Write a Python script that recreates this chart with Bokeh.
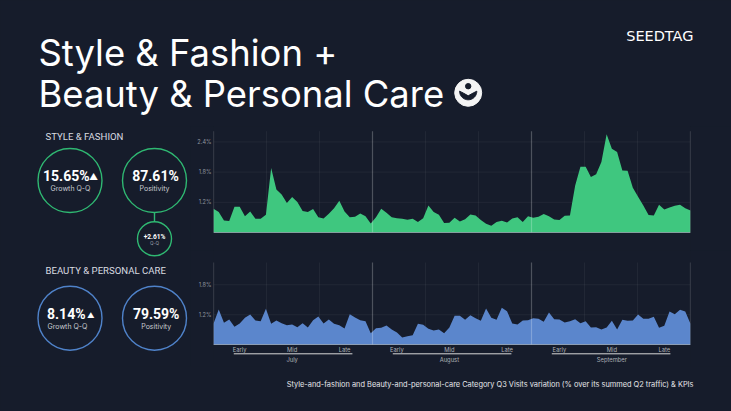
import numpy as np
from bokeh.plotting import figure
from bokeh.layouts import column, row
from bokeh.models import Range1d, FixedTicker, LinearAxis, PrintfTickFormatter
from bokeh.core.properties import value
from bokeh.embed import file_html
from bokeh.resources import INLINE

BG = "#161c2b"
GREEN = "#3fc77f"
BLUE = "#5b86cc"
RING_GREEN = "#2fb872"
RING_BLUE = "#4f82c9"
FONT = "Inter"
KPI = "Roboto"

style_fashion = [1.071,1.005,.839,.826,1.111,1.111,.925,1.018,.872,.872,.952,1.881,1.456,1.357,1.184,1.304,1.204,1.025,1.005,1.065,
 .905,.879,.972,1.084,1.231,1.018,.905,.912,.978,.925,.779,.905,1.071,.992,.905,.885,.872,.852,.872,.806,
 .885,1.138,1.005,.952,.786,.792,.892,.819,.865,.958,.938,.846,.773,.733,.806,.832,.799,.879,.905,.806,
 .925,.892,.912,.965,.925,.859,.846,.932,.938,1.536,1.907,1.907,1.702,1.755,2.0,2.551,2.266,2.2,1.834,1.828,
 1.489,1.31,1.138,.945,.938,1.151,1.058,1.098,1.131,1.151,1.084,1.038]
beauty_care = [1.02,1.307,1.04,1.107,.96,1.027,1.14,1.207,1.087,1.073,1.32,1.02,1.087,1.033,.993,1.007,.953,1.033,.947,1.093,
 1.167,1.027,1.107,1.02,.993,.927,1.213,1.147,1.093,1.073,.833,.933,.94,.987,.907,.847,.747,.773,.793,1.02,
 1.0,.92,.887,.907,.833,.947,1.18,1.18,1.1,1.193,1.133,1.08,1.327,1.14,1.1,1.34,1.273,1.027,1.007,1.087,
 1.093,1.133,1.12,1.06,1.247,1.113,1.107,1.047,1.073,1.113,1.033,1.073,.947,.953,.907,.947,1.08,.907,1.1,1.08,
 1.087,1.207,1.12,1.12,1.16,.94,.98,1.267,1.213,1.3,1.267,1.02]
days = list(range(len(style_fashion)))
part_ticks = [5, 15, 25, 35, 45, 56, 66, 76, 86]
part_labels = ["Early", "Mid", "Late"] * 3
month_ticks = [15, 45, 76]
month_labels = ["July", "August", "September"]
y_ticks_top = [1.2, 1.8, 2.4]
y_ticks_bottom = [1.2, 1.8]
TITLE = ["Style & Fashion +", "Beauty & Personal Care"]
FOOT = "Style-and-fashion and Beauty-and-personal-care Category Q3 Visits variation (% over its summed Q2 traffic) & KPIs"


def blank(w, h, x0, x1, y0, y1):
    p = figure(width=w, height=h, x_range=Range1d(x0, x1), y_range=Range1d(y0, y1),
               output_backend="svg", toolbar_location=None, min_border=0)
    p.axis.visible = False
    p.grid.visible = False
    p.outline_line_color = None
    p.background_fill_color = BG
    p.border_fill_color = BG
    return p


def txt(p, x, y, s, size, color="#ffffff", align="left", style="normal", font=FONT):
    p.text([x], [y], text=[s], text_font=value(font), text_font_size=f"{size}px", text_color=color,
           text_align=align, text_baseline="middle", text_font_style=style)


# ---- header
head = blank(731, 126, 0, 731, 126, 0)
for s, y in zip(TITLE, [52, 93]):
    txt(head, 38, y, s, 36.4)
txt(head, 693, 35, "SEEDTAG", 14.5, align="right", font="DejaVu Sans")
cx, cy = 467.7, 92.3
head.circle([cx], [cy], radius=13.5, color="#f4f4f4")
t = np.linspace(0, np.pi, 24)
lx = list(cx + 8.6 * np.cos(t)) + [cx - 5, cx, cx + 5]
ly = list(cy - 1.6 + 8.6 * np.sin(t)) + [cy + 0.2, cy + 3, cy + 0.2]
head.patch(lx, ly, color=BG)
head.circle([cx], [cy - 6.6], radius=2.7, color=BG)

# ---- left KPI panel
left = blank(190, 240, 0, 190, 366, 126)
txt(left, 45, 135.7, "STYLE & FASHION", 9.6, "#d9dbe0", font=KPI)
txt(left, 45, 270.3, "BEAUTY & PERSONAL CARE", 9.6, "#d9dbe0", font=KPI)
for x, y, r, c in [(69.5, 180, 32, RING_GREEN), (154, 180, 32, RING_GREEN), (154, 238.3, 17, RING_GREEN),
                   (69.5, 317.7, 32, RING_BLUE), (154, 317.7, 32, RING_BLUE)]:
    left.circle([x], [y], radius=r, fill_color=None, line_color=c, line_width=1.4)
left.segment([154], [212], [154], [221.3], line_color=RING_GREEN, line_width=1.4)
txt(left, 42.5, 175.7, "15.65%", 14, style="bold", font=KPI)
txt(left, 88.5, 176.2, "▲", 9)
txt(left, 70, 187.6, "Growth Q-Q", 7, "#c9ccd2", "center")
txt(left, 155, 175.7, "87.61%", 14, align="center", style="bold", font=KPI)
txt(left, 154, 187.6, "Positivity", 7, "#c9ccd2", "center")
txt(left, 154, 236.7, "+2.61%", 6.6, align="center", style="bold", font=KPI)
txt(left, 154, 243.2, "Q-Q", 4.6, "#9a9ea8", "center")
txt(left, 46.5, 313.3, "8.14%", 14, style="bold", font=KPI)
txt(left, 86.5, 314.5, "▲", 7.5)
txt(left, 67, 326, "Growth Q-Q", 7, "#c9ccd2", "center")
txt(left, 155.7, 313.3, "79.59%", 14, align="center", style="bold", font=KPI)
txt(left, 155.7, 326, "Positivity", 7, "#c9ccd2", "center")


# ---- charts
def chart(vals, color, h, ymin, ymax, top, yticks):
    p = figure(width=541, height=h, x_range=Range1d(0, 91), y_range=Range1d(ymin, ymax),
               output_backend="svg", toolbar_location=None, x_axis_location=None, y_axis_location=None,
               min_border_left=23, min_border_right=41, min_border_top=0, min_border_bottom=0)
    p.outline_line_color = None
    p.background_fill_color = BG
    p.border_fill_color = BG
    p.grid.visible = False
    month = 91 / 3
    faint = [month / 3 * i for i in range(1, 9) if i % 3]
    p.segment(faint, [0.6] * len(faint), faint, [top] * len(faint), line_color="#ffffff", line_alpha=0.05, line_width=1)
    for yv in yticks:
        p.segment([0], [yv], [91], [yv], line_color="#ffffff", line_alpha=0.05, line_width=1)
    p.varea(days, y1=[0.6] * len(days), y2=vals, fill_color=color)
    seps = [0, month, 2 * month, 91]
    p.segment(seps, [0.6] * 4, seps, [top] * 4, line_color="#ffffff", line_alpha=0.24, line_width=1.2)
    ya = LinearAxis(ticker=FixedTicker(ticks=yticks), formatter=PrintfTickFormatter(format="%.1f%%"),
                    axis_line_color=None, major_tick_line_color=None, minor_tick_line_color=None,
                    major_tick_in=0, major_tick_out=0,
                    major_label_text_color="#8f949e", major_label_text_font=FONT,
                    major_label_text_font_size="5.6px", major_label_standoff=2)
    p.add_layout(ya, "left")
    return p


top_chart = chart(style_fashion, GREEN, 124, 0.242, 2.706, 2.612, y_ticks_top)
base = LinearAxis(ticker=FixedTicker(ticks=[]), fixed_location=0.6, axis_line_color="#aab4bd",
                  axis_line_alpha=0.7, major_tick_in=0, major_tick_out=0, major_label_text_font_size="0px")
top_chart.add_layout(base, "below")

bot_chart = chart(beauty_care, BLUE, 116, 0.166, 2.486, 2.246, y_ticks_bottom)
parts = LinearAxis(ticker=FixedTicker(ticks=part_ticks), fixed_location=0.6,
                   major_label_overrides=dict(zip(part_ticks, part_labels)),
                   axis_line_color="#aab4bd", axis_line_alpha=0.7, major_tick_line_color=None,
                   minor_tick_line_color=None, major_tick_in=0, major_tick_out=0,
                   major_label_text_color="#aeb1b8", major_label_text_font=FONT,
                   major_label_text_font_size="5.8px", major_label_standoff=1)
bot_chart.add_layout(parts, "below")
months = LinearAxis(ticker=FixedTicker(ticks=month_ticks), fixed_location=0.40,
                    major_label_overrides=dict(zip(month_ticks, month_labels)),
                    axis_line_color=None, major_tick_line_color=None, minor_tick_line_color=None,
                    major_tick_in=0, major_tick_out=0,
                    major_label_text_color="#aeb1b8", major_label_text_font=FONT,
                    major_label_text_font_size="5.8px", major_label_standoff=1)
bot_chart.add_layout(months, "below")
m = 91 / 3
starts = [3.87 + m * i for i in range(3)]
ends = [26.5 + m * i for i in range(3)]
bot_chart.segment(starts, [0.42] * 3, ends, [0.42] * 3, line_color="#d8d8d8", line_width=1)

# ---- footer
foot = blank(731, 45, 0, 731, 411, 366)
txt(foot, 693, 384, FOOT, 7.4, "#e6e7ea", "right")

page = column(head, row(left, column(top_chart, bot_chart, spacing=0), spacing=0), foot, spacing=0)
html = file_html(page, INLINE)
html = html.replace("<head>", f"<head><style>html,body{{background:{BG};}}</style>", 1)
open("out.html", "w").write(html)
